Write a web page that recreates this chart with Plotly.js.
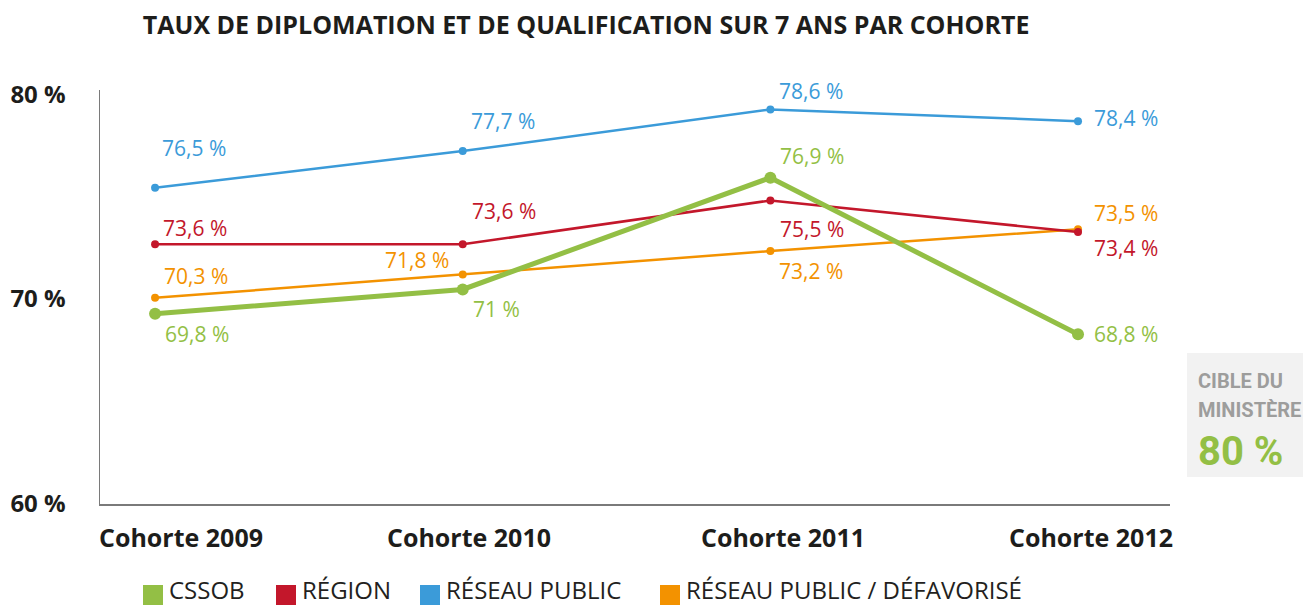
<!DOCTYPE html>
<html>
<head>
<meta charset="utf-8">
<script src="https://cdn.plot.ly/plotly-3.0.1.min.js"></script>
<style>html,body{margin:0;padding:0;background:#fff;}#chart{width:1303px;height:607px;}</style>
</head>
<body>
<div id="chart"></div>
<script>
// ---- data ----
const categories = ['Cohorte 2009', 'Cohorte 2010', 'Cohorte 2011', 'Cohorte 2012'];
const seriesNames = ['CSSOB', 'RÉGION', 'RÉSEAU PUBLIC', 'RÉSEAU PUBLIC / DÉFAVORISÉ'];
// plotted positions as drawn in the picture (percent)
const cssob  = [69.28, 70.47, 75.92, 68.28];
const region = [72.67, 72.67, 74.81, 73.27];
const reseau = [75.43, 77.22, 79.25, 78.68];
const defav  = [70.06, 71.20, 72.34, 73.40];
// printed value labels
const cssobLabels  = ['69,8 %', '71 %', '76,9 %', '68,8 %'];
const regionLabels = ['73,6 %', '73,6 %', '75,5 %', '73,4 %'];
const reseauLabels = ['76,5 %', '77,7 %', '78,6 %', '78,4 %'];
const defavLabels  = ['70,3 %', '71,8 %', '73,2 %', '73,5 %'];
const yTickVals = [60, 70, 80];
const yTickText = ['60 %', '70 %', '80 %'];
const targetTitle = ['CIBLE DU', 'MINISTÈRE'];
const targetValue = '80 %';
const chartTitle = 'TAUX DE DIPLOMATION ET DE QUALIFICATION SUR 7 ANS PAR COHORTE';

// ---- styles / layout helpers ----
const COLORS = {cssob: '#93bf45', region: '#c3172b', reseau: '#3b9bd9', defav: '#f39200'};
const W = 1303, H = 607;
const L = 100, R = 1170, T = 90, B = 504;
const px = x => (x - L) / (R - L);
const py = y => (B - y) / (B - T);
const xIdx = categories.map((c, i) => i);

function lineTrace(y, color, width, msize) {
  return {x: xIdx, y: y, type: 'scatter', mode: 'lines+markers',
    line: {color: color, width: width}, marker: {color: color, size: msize},
    hoverinfo: 'skip', showlegend: false, cliponaxis: false};
}
const traces = [
  lineTrace(reseau, COLORS.reseau, 2.5, 8),
  lineTrace(defav, COLORS.defav, 2.5, 8),
  lineTrace(region, COLORS.region, 2.5, 8),
  lineTrace(cssob, COLORS.cssob, 5, 12),
];

// label offsets [xshift, yshift(up), anchor]
const offs = {
  reseau: [[5, 40, 'left'], [6, 30, 'left'], [7, 18, 'left'], [14, 3, 'left']],
  region: [[6, 16, 'left'], [7, 33, 'left'], [8, -29, 'left'], [14, -16, 'left']],
  defav:  [[7, 22, 'left'], [-12, 14, 'right'], [7, -20, 'left'], [14, 16, 'left']],
  cssob:  [[8, -20, 'left'], [8, -20, 'left'], [8, 22, 'left'], [14, 0, 'left']],
};
const annotations = [];
function addLabels(vals, labels, key) {
  vals.forEach((v, i) => {
    const o = offs[key][i];
    annotations.push({x: xIdx[i], y: v, xref: 'x', yref: 'y', text: labels[i],
      showarrow: false, xanchor: o[2], yanchor: 'middle', xshift: o[0], yshift: o[1],
      font: {family: 'Open Sans, sans-serif', size: 21, color: COLORS[key]}});
  });
}
addLabels(reseau, reseauLabels, 'reseau');
addLabels(region, regionLabels, 'region');
addLabels(defav, defavLabels, 'defav');
addLabels(cssob, cssobLabels, 'cssob');

// category labels (offset from the points as in the original)
const catShift = [26, 6, 13, 13];
categories.forEach((c, i) => {
  annotations.push({x: xIdx[i], y: py(537), xref: 'x', yref: 'paper', text: c,
    showarrow: false, xanchor: 'center', yanchor: 'middle', xshift: catShift[i],
    font: {family: 'Open Sans, sans-serif', size: 25, weight: 700, color: '#1d1d1b'}});
});

// legend (manual)
const legendKeys = ['cssob', 'region', 'reseau', 'defav'];
const legendSq = [143, 276, 420, 660];
const shapes = [];
legendKeys.forEach((k, i) => {
  shapes.push({type: 'rect', xref: 'paper', yref: 'paper',
    x0: px(legendSq[i]), x1: px(legendSq[i] + 20), y0: py(605), y1: py(585),
    fillcolor: COLORS[k], line: {width: 0}});
  annotations.push({xref: 'paper', yref: 'paper', x: px(legendSq[i] + 24), y: py(589),
    text: seriesNames[i], showarrow: false, xanchor: 'left', yanchor: 'middle',
    font: {family: 'Open Sans, sans-serif', size: 24, color: '#231f20'}});
});

// ministry target box
shapes.push({type: 'rect', xref: 'paper', yref: 'paper', layer: 'below',
  x0: px(1187), x1: px(1310), y0: py(477), y1: py(353),
  fillcolor: '#f2f2f2', line: {width: 0}});
const condensed = 'Roboto, sans-serif';
annotations.push({xref: 'paper', yref: 'paper', x: px(1196), y: py(381), text: targetTitle[0],
  showarrow: false, xanchor: 'left', yanchor: 'middle',
  font: {family: condensed, size: 20, weight: 700, color: '#9d9d9c'}});
annotations.push({xref: 'paper', yref: 'paper', x: px(1196), y: py(410), text: targetTitle[1],
  showarrow: false, xanchor: 'left', yanchor: 'middle',
  font: {family: condensed, size: 20, weight: 700, color: '#9d9d9c'}});
annotations.push({xref: 'paper', yref: 'paper', x: px(1196), y: py(451), text: targetValue,
  showarrow: false, xanchor: 'left', yanchor: 'middle',
  font: {family: condensed, size: 40, weight: 700, color: COLORS.cssob}});

const layout = {
  width: W, height: H,
  margin: {l: L, r: W - R, t: T, b: H - B, pad: 0},
  paper_bgcolor: '#ffffff', plot_bgcolor: '#ffffff',
  title: {text: chartTitle, x: 592 / W, xanchor: 'center', xref: 'paper',
    y: 1 - 25 / H, yanchor: 'middle', yref: 'container',
    font: {family: 'Open Sans, sans-serif', size: 25, weight: 700, color: '#1d1d1b'}},
  xaxis: {range: [-0.179, 3.299], tickvals: xIdx, ticktext: categories, showticklabels: false,
    showgrid: false, zeroline: false, showline: true, linecolor: '#7a7a7a', linewidth: 1.5,
    ticks: '', fixedrange: true},
  yaxis: {range: [60, 80.2], tickvals: yTickVals, ticktext: yTickText,
    showgrid: false, zeroline: false, showline: true, linecolor: '#7a7a7a', linewidth: 1.5,
    ticks: '', ticklabelstandoff: 28, fixedrange: true,
    tickfont: {family: 'Open Sans, sans-serif', size: 24, weight: 700, color: '#1d1d1b'}},
  shapes: shapes,
  annotations: annotations,
  showlegend: false,
};
Plotly.newPlot('chart', traces, layout, {staticPlot: true, displayModeBar: false});
</script>
</body>
</html>
